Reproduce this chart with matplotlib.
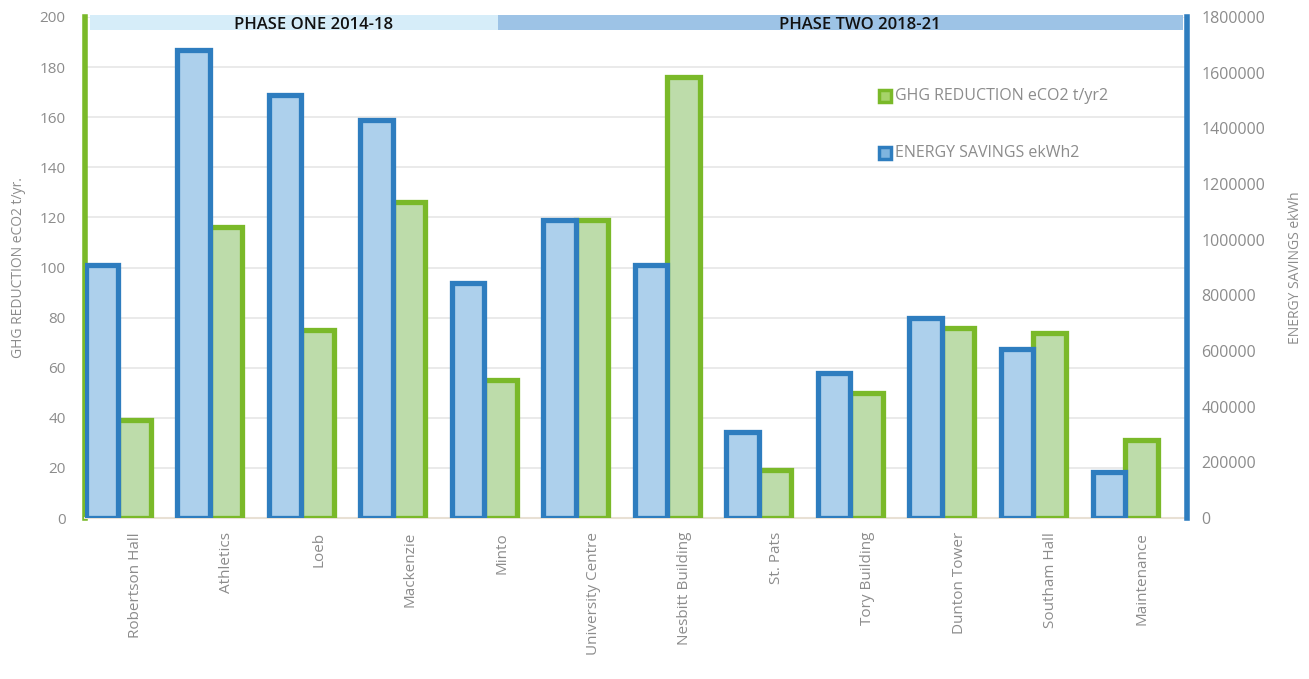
import matplotlib.pyplot as plt
import numpy as np
from matplotlib.patches import Rectangle

plt.rcParams['font.family'] = ['Open Sans', 'DejaVu Sans']

# Buildings and their savings
buildings = ['Robertson Hall', 'Athletics', 'Loeb', 'Mackenzie', 'Minto',
             'University Centre', 'Nesbitt Building', 'St. Pats', 'Tory Building',
             'Dunton Tower', 'Southam Hall', 'Maintenance']
ghg_reduction = [39, 116, 75, 126, 55, 119, 176, 19, 50, 76, 74, 31]  # eCO2 t/yr
energy_savings = [909000, 1681000, 1520000, 1430000, 844000, 1071000,
                  909000, 309000, 521000, 719000, 607000, 165000]  # ekWh

phases = ['PHASE ONE 2014-18', 'PHASE TWO 2018-21']

GREEN = '#7ab929'
GREEN_FILL = '#bddcaa'
BLUE = '#2e7dbf'
BLUE_FILL = '#add0ec'
GREY = '#8c8c8c'

x = np.arange(len(buildings))
width = 0.355

fig = plt.figure(figsize=(13.09, 6.79), dpi=100)
ax1 = fig.add_axes([0.065, 0.237, 0.842, 0.738])
ax2 = ax1.twinx()

ax2.bar(x - width / 2, energy_savings, width, color=BLUE_FILL, edgecolor=BLUE,
        linewidth=3.8, zorder=3)
ax1.bar(x + width / 2, ghg_reduction, width, color=GREEN_FILL, edgecolor=GREEN,
        linewidth=3.8, zorder=3)

ax1.set_xlim(-0.36, len(buildings) - 1 + 0.68)
ax1.set_ylim(0, 200)
ax2.set_ylim(0, 1800000)
ax1.set_yticks(np.arange(0, 201, 20))
ax2.set_yticks(np.arange(0, 1800001, 200000))
ax2.yaxis.set_major_formatter(plt.FuncFormatter(lambda v, p: f'{int(v)}'))

ax1.set_xticks(x + 0.19)
ax1.set_xticklabels(buildings, rotation=90, va='top', ha='center')

ax1.set_axisbelow(True)
ax1.grid(axis='y', color='#e6e6e6', linewidth=1.2, zorder=0)

ax1.tick_params(axis='y', length=0, pad=14, labelsize=11, labelcolor=GREY)
ax1.tick_params(axis='x', length=0, pad=10, labelsize=11, labelcolor=GREY)
ax2.tick_params(axis='y', length=0, pad=10, labelsize=11.5, labelcolor=GREY)

for s in ['top', 'right']:
    ax1.spines[s].set_visible(False)
for s in ['top', 'left', 'bottom']:
    ax2.spines[s].set_visible(False)
ax1.spines['left'].set_color(GREEN)
ax1.spines['left'].set_linewidth(4)
ax1.spines['bottom'].set_color('#e8e0d4')
ax1.spines['bottom'].set_linewidth(1.5)
ax2.spines['right'].set_color(BLUE)
ax2.spines['right'].set_linewidth(4)

ax1.set_ylabel('GHG REDUCTION eCO2 t/yr.', fontsize=10, color=GREY)
ax1.yaxis.set_label_coords(-0.054, 0.5)
ax2.set_ylabel('ENERGY SAVINGS ekWh', fontsize=10, color=GREY, rotation=90)
ax2.yaxis.set_label_coords(1.091, 0.5)

# Phase banner along the top
ax2.add_patch(Rectangle((0.0045, 0.974), 0.3705, 0.03, transform=ax2.transAxes,
                        facecolor='#d6edf9', edgecolor='none', clip_on=False, zorder=5))
ax2.add_patch(Rectangle((0.375, 0.974), 0.6215, 0.03, transform=ax2.transAxes,
                        facecolor='#9dc3e6', edgecolor='none', clip_on=False, zorder=5))
ax2.text(0.207, 0.977, phases[0], transform=ax2.transAxes, ha='center', va='baseline',
         fontsize=12, fontweight='semibold', color='#111111', zorder=6)
ax2.text(0.703, 0.977, phases[1], transform=ax2.transAxes, ha='center', va='baseline',
         fontsize=12, fontweight='semibold', color='#111111', zorder=6)

# Legend
legend_items = [('GHG REDUCTION eCO2 t/yr2', GREEN, '#a6d36a', 0.842),
                ('ENERGY SAVINGS ekWh2', BLUE, '#7fb4df', 0.729)]
for label, edge, face, ypos in legend_items:
    ax2.add_patch(Rectangle((0.7205, ypos - 0.012), 0.0105, 0.024, transform=ax2.transAxes,
                            facecolor=face, edgecolor=edge, linewidth=2.5, zorder=6))
    ax2.text(0.7345, ypos, label, transform=ax2.transAxes, ha='left', va='center',
             fontsize=11.5, color=GREY, zorder=6)

fig.savefig('out.png', dpi=100)
